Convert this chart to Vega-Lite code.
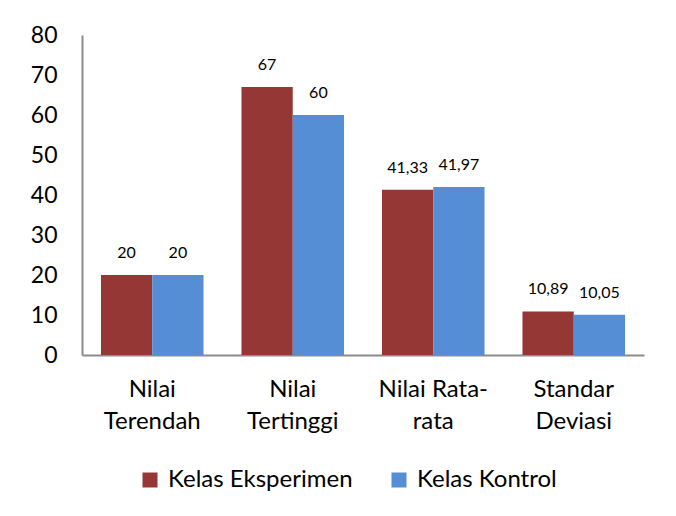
{
  "$schema": "https://vega.github.io/schema/vega-lite/v6.json",
  "width": 562,
  "height": 320,
  "autosize": {"type": "none"},
  "padding": {"left": 82, "top": 35, "right": 32, "bottom": 161},
  "background": "white",
  "config": {
    "view": {"stroke": null},
    "font": "Lato",
    "axis": {"labelFont": "Lato", "labelColor": "#000000", "grid": false, "ticks": false}
  },
  "data": {
    "values": [
      {"kategori": "Nilai Terendah", "kelas": "Kelas Eksperimen", "nilai": 20, "label": "20"},
      {"kategori": "Nilai Terendah", "kelas": "Kelas Kontrol", "nilai": 20, "label": "20"},
      {"kategori": "Nilai Tertinggi", "kelas": "Kelas Eksperimen", "nilai": 67, "label": "67"},
      {"kategori": "Nilai Tertinggi", "kelas": "Kelas Kontrol", "nilai": 60, "label": "60"},
      {"kategori": "Nilai Rata-rata", "kelas": "Kelas Eksperimen", "nilai": 41.33, "label": "41,33"},
      {"kategori": "Nilai Rata-rata", "kelas": "Kelas Kontrol", "nilai": 41.97, "label": "41,97"},
      {"kategori": "Standar Deviasi", "kelas": "Kelas Eksperimen", "nilai": 10.89, "label": "10,89"},
      {"kategori": "Standar Deviasi", "kelas": "Kelas Kontrol", "nilai": 10.05, "label": "10,05"}
    ]
  },
  "encoding": {
    "x": {
      "field": "kategori",
      "type": "nominal",
      "sort": ["Nilai Terendah", "Nilai Tertinggi", "Nilai Rata-rata", "Standar Deviasi"],
      "scale": {"paddingInner": 0.27, "paddingOuter": 0.135},
      "axis": {
        "title": null,
        "labelAngle": 0,
        "labelFontSize": 24,
        "labelPadding": 22,
        "labelLineHeight": 32,
        "domainColor": "#8c8c8c",
        "domainWidth": 2,
        "labelExpr": "datum.value == 'Nilai Terendah' ? ['Nilai', 'Terendah'] : datum.value == 'Nilai Tertinggi' ? ['Nilai', 'Tertinggi'] : datum.value == 'Nilai Rata-rata' ? ['Nilai Rata-', 'rata'] : ['Standar', 'Deviasi']"
      }
    },
    "xOffset": {
      "field": "kelas",
      "type": "nominal",
      "sort": ["Kelas Eksperimen", "Kelas Kontrol"],
      "scale": {"paddingInner": 0, "paddingOuter": 0}
    },
    "y": {
      "field": "nilai",
      "type": "quantitative",
      "scale": {"domain": [0, 80], "nice": false},
      "axis": {
        "title": null,
        "values": [0, 10, 20, 30, 40, 50, 60, 70, 80],
        "labelFontSize": 23,
        "labelPadding": 25,
        "domainColor": "#8c8c8c",
        "domainWidth": 2
      }
    }
  },
  "layer": [
    {
      "mark": {"type": "bar"},
      "encoding": {
        "color": {
          "field": "kelas",
          "type": "nominal",
          "scale": {"domain": ["Kelas Eksperimen", "Kelas Kontrol"], "range": ["#953735", "#558ED5"]},
          "legend": {
            "title": null,
            "orient": "none",
            "direction": "horizontal",
            "legendX": 56,
            "legendY": 433,
            "symbolType": "square",
            "symbolSize": 225,
            "symbolStrokeWidth": 0,
            "labelFontSize": 24,
            "labelFont": "Lato",
            "labelColor": "#000000",
            "labelLimit": 0,
            "labelOffset": 6,
            "columnPadding": 34
          }
        }
      }
    },
    {
      "mark": {"type": "text", "fontSize": 16, "baseline": "alphabetic", "dy": -17, "color": "#000000", "font": "Lato"},
      "encoding": {"text": {"field": "label"}}
    }
  ]
}
